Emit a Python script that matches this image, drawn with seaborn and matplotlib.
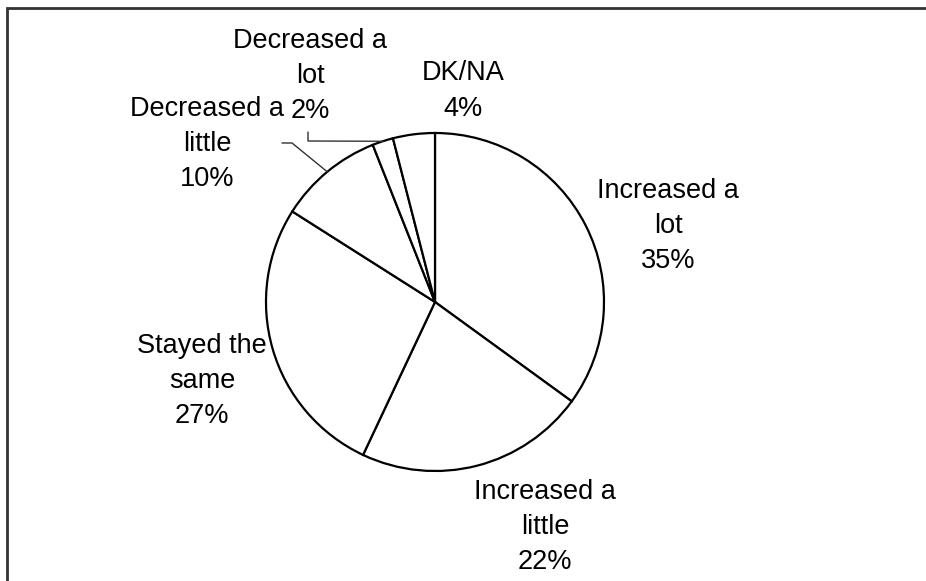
import matplotlib
matplotlib.use("Agg")
import matplotlib.pyplot as plt
import seaborn as sns
import numpy as np

categories = ["Increased a\nlot", "Increased a\nlittle", "Stayed the\nsame",
              "Decreased a\nlittle", "Decreased a\nlot", "DK/NA"]
values = [35, 22, 27, 10, 2, 4]
pct_labels = ["35%", "22%", "27%", "10%", "2%", "4%"]

sns.set_theme(style="white")
plt.rcParams['font.family'] = ['Liberation Sans', 'DejaVu Sans']

W, H = 926, 581
fig = plt.figure(figsize=(W / 100, H / 100), dpi=100)
ax = fig.add_axes([0, 0, 1, 1])

cx, cy, r = 435, H - 302, 169
wedges, _ = ax.pie(values, center=(cx, cy), radius=r, startangle=90,
                   counterclock=False, colors=["white"] * len(values),
                   wedgeprops=dict(edgecolor="black", linewidth=1.6),
                   frame=True)
ax.set_xlim(0, W)
ax.set_ylim(0, H)
ax.axis("off")

# label layout (pixel positions of label block centers)
label_pos = [(668, 226), (545, 527), (202, 381), (207, 144), (310, 76), (463, 91)]
for cat, pct, (lx, ly) in zip(categories, pct_labels, label_pos):
    ax.text(lx, H - ly, cat + "\n" + pct, ha="center", va="center",
            fontsize=19.5, linespacing=1.45, color="black")

# leader lines for small slices
def mid_point(w, frac=1.0):
    a = np.deg2rad((w.theta1 + w.theta2) / 2)
    return cx + r * frac * np.cos(a), cy + r * frac * np.sin(a)

# Decreased a little
ex, ey = mid_point(wedges[3])
ax.plot([282, 292, ex], [H - 143, H - 143, ey], color="#333333", lw=1)
# Decreased a lot
ex, ey = mid_point(wedges[4])
ax.plot([308, 308, ex], [H - 132, H - 141, ey], color="#333333", lw=1)

# partial frame
ax.plot([7, 7, W], [0, H - 8, H - 8], color="#333333", lw=2, solid_joinstyle="miter")

fig.savefig("out.png", dpi=100)
